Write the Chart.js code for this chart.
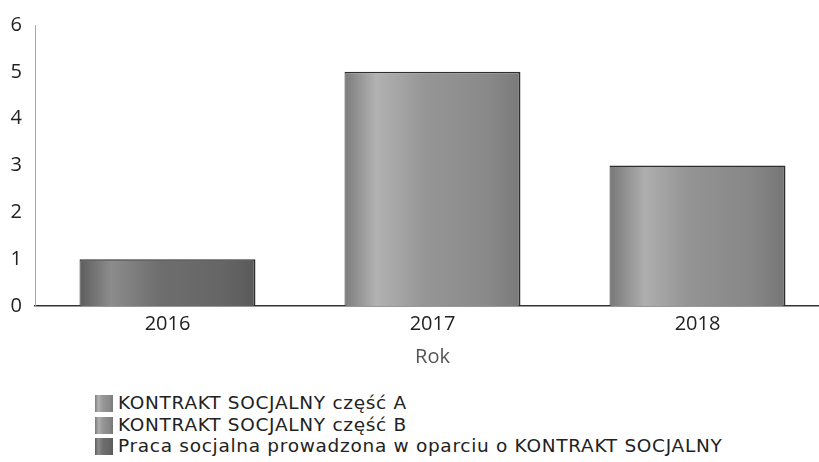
<!DOCTYPE html>
<html>
<head>
<meta charset="utf-8">
<script src="https://cdn.jsdelivr.net/npm/chart.js@4"></script>
<style>
  body { margin: 0; background: #fff; width: 819px; height: 462px; overflow: hidden; position: relative; font-family: "Open Sans", sans-serif; }
  #wrap { position: absolute; left: 0; top: 0; width: 830px; height: 373px; }
  #legend { position: absolute; left: 95px; top: 392px; font-family: "DejaVu Sans", sans-serif; font-size: 18.5px; letter-spacing: 0.7px; line-height: 21.5px; color: #222; }
  #legend div { white-space: nowrap; }
  #legend span { display: inline-block; width: 18px; height: 17px; margin-right: 5px; vertical-align: -3px; }
</style>
</head>
<body>
<div id="wrap"><canvas id="chart"></canvas></div>
<div id="legend"></div>
<script>
// data
const years = ['2016', '2017', '2018'];
const seriesNames = [
    'KONTRAKT SOCJALNY część A',
    'KONTRAKT SOCJALNY część B',
    'Praca socjalna prowadzona w oparciu o KONTRAKT SOCJALNY'
];
const kontraktA = [null, 5, null];
const kontraktB = [null, null, 3];
const praca = [1, null, null];
const yTicks = [0, 1, 2, 3, 4, 5, 6];

// cylinder-ish shading, left to right
const shades = [
    [[0, '#7c7c7c'], [0.18, '#b2b2b2'], [0.45, '#969696'], [0.8, '#8a8a8a'], [1, '#7a7a7a']],
    [[0, '#787878'], [0.2, '#aeaeae'], [0.45, '#949494'], [0.8, '#878787'], [1, '#767676']],
    [[0, '#5e5e5e'], [0.18, '#8c8c8c'], [0.45, '#6e6e6e'], [0.8, '#666666'], [1, '#5a5a5a']]
];
const catPct = 0.664;

function shade(stops) {
    return function (c) {
        const x = c.chart.scales.x;
        if (!x || !x.width) return stops[2][1];
        const w = x.width / years.length * catPct;
        const cx = x.getPixelForValue(c.dataIndex);
        const g = c.chart.ctx.createLinearGradient(cx - w / 2, 0, cx + w / 2, 0);
        stops.forEach(s => g.addColorStop(s[0], s[1]));
        return g;
    };
}

const values = [kontraktA, kontraktB, praca];
const datasets = seriesNames.map((name, i) => ({
    label: name,
    data: values[i],
    backgroundColor: shade(shades[i]),
    borderColor: '#2e2e2e',
    borderWidth: { top: 1.5, left: 1, right: 2, bottom: 0 },
    borderSkipped: 'bottom',
    categoryPercentage: catPct,
    barPercentage: 1
}));

// legend under the chart
const legend = document.getElementById('legend');
seriesNames.forEach((name, i) => {
    const row = document.createElement('div');
    const sw = document.createElement('span');
    sw.style.background = 'linear-gradient(to right, ' + shades[i].map(s => s[1] + ' ' + (s[0] * 100) + '%').join(', ') + ')';
    row.appendChild(sw);
    row.appendChild(document.createTextNode(name));
    legend.appendChild(row);
});

new Chart(document.getElementById('chart'), {
    type: 'bar',
    data: { labels: years, datasets: datasets },
    options: {
        responsive: true,
        maintainAspectRatio: false,
        animation: false,
        layout: { padding: { top: 20, left: 0, right: 0, bottom: 0 } },
        plugins: { legend: { display: false }, tooltip: { enabled: false } },
        scales: {
            x: {
                stacked: true,
                grid: { display: false, drawTicks: false },
                border: { display: true, color: '#333', width: 1.5 },
                ticks: { color: '#222', padding: 6, font: { family: 'Open Sans', size: 20 } },
                title: { display: true, text: 'Rok', color: '#555', padding: { top: 3, bottom: 4 }, font: { family: 'Open Sans', size: 20 } }
            },
            y: {
                stacked: true,
                min: yTicks[0],
                max: yTicks[yTicks.length - 1],
                afterFit: s => { s.width = 35; },
                afterBuildTicks: s => { s.ticks = yTicks.map(v => ({ value: v })); },
                grid: { display: false, drawTicks: false },
                border: { display: true, color: '#aaa', width: 1, dash: [1, 1] },
                ticks: { color: '#222', padding: 13, font: { family: 'Open Sans', size: 20 } }
            }
        }
    }
});
</script>
</body>
</html>
